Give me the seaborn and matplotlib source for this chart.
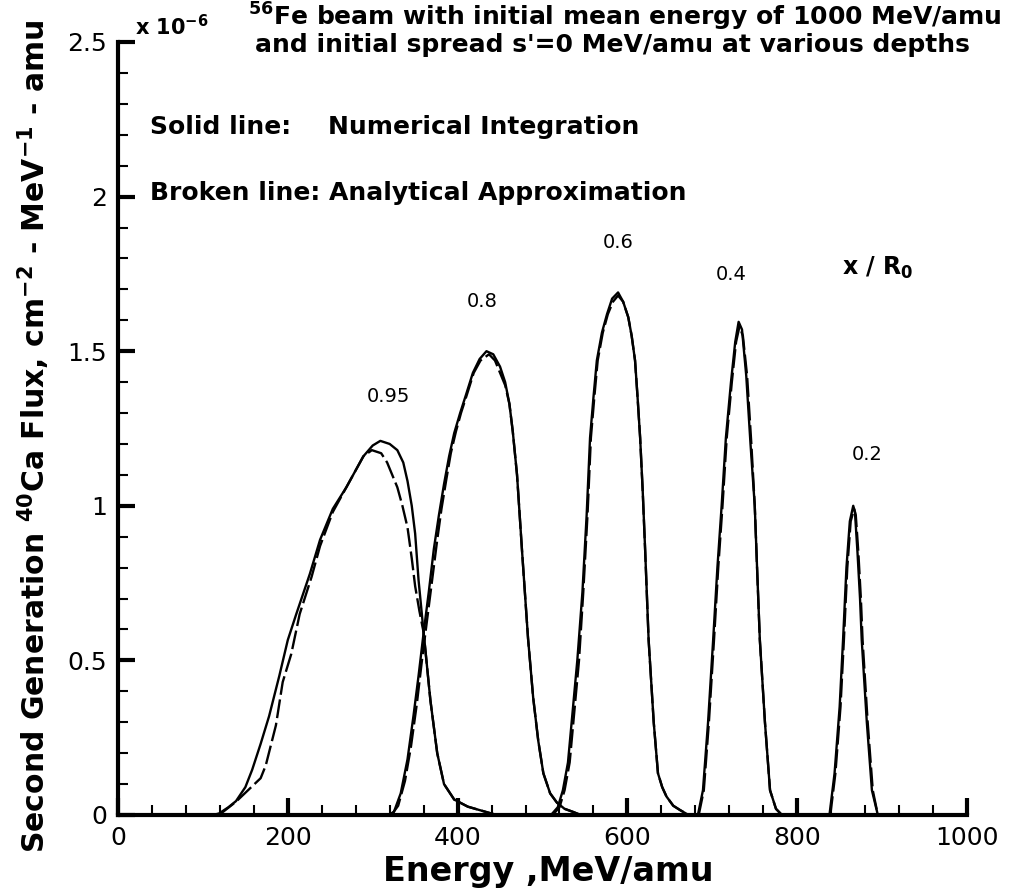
import numpy as np
import pandas as pd
import matplotlib
matplotlib.use("Agg")
import matplotlib.pyplot as plt
import seaborn as sns
from matplotlib.ticker import MultipleLocator

# ---------------- data (flux in units of 1e-6) ----------------
depths = ["0.95", "0.8", "0.6", "0.4", "0.2"]

E95_num = [112, 119, 130, 139, 150, 158, 168, 178, 190, 200, 210, 226, 238, 253, 269, 289, 300, 309, 320, 329, 336, 341, 346, 350, 354, 360, 368, 376, 384, 396, 412, 432, 446]
F95_num = [0.0, 0.005, 0.025, 0.045, 0.09, 0.146, 0.23, 0.32, 0.45, 0.566, 0.65, 0.78, 0.89, 0.99, 1.06, 1.16, 1.195, 1.21, 1.20, 1.18, 1.14, 1.08, 1.0, 0.91, 0.76, 0.59, 0.37, 0.20, 0.10, 0.05, 0.027, 0.011, 0.0]
E95_ana = [119, 139, 168, 174, 186, 194, 204, 214, 228, 238, 253, 269, 289, 299, 310, 317, 323, 329, 335, 341, 346, 350, 355, 360, 368, 376, 384, 396, 412, 432, 446]
F95_ana = [0.0, 0.043, 0.119, 0.16, 0.29, 0.43, 0.52, 0.65, 0.77, 0.87, 0.98, 1.06, 1.16, 1.18, 1.17, 1.14, 1.10, 1.06, 1.0, 0.93, 0.83, 0.74, 0.66, 0.59, 0.37, 0.20, 0.10, 0.05, 0.027, 0.011, 0.0]

E80_num = [318, 325, 333, 341, 348, 354, 360, 366, 372, 378, 384, 390, 396, 403, 410, 418, 426, 434, 442, 450, 456, 461, 465, 470, 476, 483, 489, 495, 501, 509, 517, 526, 536, 545]
F80_num = [0.0, 0.01, 0.07, 0.18, 0.32, 0.45, 0.59, 0.72, 0.86, 0.97, 1.07, 1.16, 1.235, 1.30, 1.36, 1.43, 1.475, 1.50, 1.49, 1.45, 1.40, 1.33, 1.24, 1.10, 0.85, 0.57, 0.38, 0.24, 0.135, 0.07, 0.04, 0.02, 0.01, 0.0]
E80_ana = [322, 330, 338, 345, 352, 358, 364, 370, 376, 381, 387, 392, 398, 404, 411, 419, 427, 437, 444, 450, 456, 461, 465, 470, 476, 483, 489, 495, 501, 509, 517, 526, 536, 545]
F80_ana = [0.0, 0.03, 0.11, 0.22, 0.36, 0.50, 0.63, 0.76, 0.89, 0.99, 1.09, 1.17, 1.24, 1.30, 1.36, 1.43, 1.47, 1.49, 1.47, 1.43, 1.39, 1.33, 1.24, 1.10, 0.85, 0.57, 0.38, 0.24, 0.135, 0.07, 0.04, 0.02, 0.01, 0.0]

E60_num = [510, 518, 524, 530, 536, 541, 547, 552, 556, 560, 564, 570, 576, 582, 589, 595, 601, 605, 609, 612, 615, 618, 621, 625, 631, 636, 641, 646, 654, 662, 672]
F60_num = [0.0, 0.025, 0.08, 0.17, 0.35, 0.50, 0.72, 0.97, 1.22, 1.35, 1.47, 1.56, 1.62, 1.67, 1.69, 1.66, 1.61, 1.55, 1.47, 1.35, 1.22, 1.05, 0.85, 0.566, 0.30, 0.135, 0.09, 0.06, 0.03, 0.016, 0.0]
E60_ana = [512, 520, 526, 532, 538, 543, 548, 553, 557, 561, 565, 571, 577, 583, 589, 595, 601, 605, 609, 612, 615, 618, 621, 625, 631, 636, 641, 646, 654, 662, 672]
F60_ana = [0.0, 0.025, 0.08, 0.17, 0.35, 0.50, 0.72, 0.97, 1.22, 1.35, 1.47, 1.56, 1.62, 1.66, 1.68, 1.66, 1.61, 1.55, 1.47, 1.35, 1.22, 1.05, 0.85, 0.566, 0.30, 0.135, 0.09, 0.06, 0.03, 0.016, 0.0]

E40_num = [683, 689, 695, 701, 706, 711, 716, 722, 727, 731, 735, 740, 745, 750, 753, 756, 762, 768, 775, 782]
F40_num = [0.0, 0.08, 0.30, 0.566, 0.80, 1.0, 1.22, 1.40, 1.53, 1.595, 1.57, 1.42, 1.20, 1.0, 0.78, 0.566, 0.30, 0.08, 0.02, 0.0]
E40_ana = [684, 690, 696, 702, 707, 712, 717, 723, 728, 732, 736, 741, 746, 750, 753, 756, 762, 768, 775, 782]
F40_ana = [0.0, 0.08, 0.30, 0.566, 0.80, 1.0, 1.22, 1.40, 1.53, 1.58, 1.55, 1.42, 1.20, 1.0, 0.78, 0.566, 0.30, 0.08, 0.02, 0.0]

E20_num = [838, 844, 850, 854, 858, 862, 866, 868, 871, 874, 876, 882, 888, 895]
F20_num = [0.0, 0.135, 0.35, 0.566, 0.80, 0.95, 1.0, 0.98, 0.85, 0.70, 0.566, 0.30, 0.08, 0.0]
E20_ana = [839, 845, 851, 855, 859, 863, 867, 869, 872, 875, 877, 883, 889, 895]
F20_ana = [0.0, 0.135, 0.35, 0.566, 0.80, 0.95, 0.99, 0.97, 0.85, 0.70, 0.566, 0.30, 0.08, 0.0]

x_ticks = [0, 200, 400, 600, 800, 1000]
y_ticks = [0, 0.5, 1, 1.5, 2, 2.5]
y_tick_labels = ["0", "0.5", "1", "1.5", "2", "2.5"]

# ---------------- long table ----------------
curves = {
    ("0.95", "Numerical"): (E95_num, F95_num), ("0.95", "Analytical"): (E95_ana, F95_ana),
    ("0.8", "Numerical"): (E80_num, F80_num), ("0.8", "Analytical"): (E80_ana, F80_ana),
    ("0.6", "Numerical"): (E60_num, F60_num), ("0.6", "Analytical"): (E60_ana, F60_ana),
    ("0.4", "Numerical"): (E40_num, F40_num), ("0.4", "Analytical"): (E40_ana, F40_ana),
    ("0.2", "Numerical"): (E20_num, F20_num), ("0.2", "Analytical"): (E20_ana, F20_ana),
}
rows = []
for (d, m), (E, F) in curves.items():
    for e, f in zip(E, F):
        rows.append({"energy": e, "flux": f, "depth": d, "method": m, "unit": d + m})
df = pd.DataFrame(rows)

# ---------------- figure ----------------
sns.set_theme(style="white")
plt.rcParams['font.family'] = ['DejaVu Sans']
plt.rcParams['mathtext.default'] = 'regular'
plt.rcParams['text.color'] = 'black'
plt.rcParams['axes.labelcolor'] = 'black'
plt.rcParams['xtick.color'] = 'black'
plt.rcParams['ytick.color'] = 'black'

W, H = 1032, 889
fig = plt.figure(figsize=(W / 100, H / 100), dpi=100)
ax = fig.add_axes([118 / W, (H - 815) / H, (967 - 118) / W, (815 - 42) / H])

sns.lineplot(data=df, x="energy", y="flux", units="unit", style="method",
             dashes={"Numerical": "", "Analytical": (8, 2)},
             estimator=None, sort=False, color="black", lw=1.7,
             legend=False, ax=ax)

ax.set_xlim(0, 1000)
ax.set_ylim(0, 2.5)
ax.set_xticks(x_ticks)
ax.set_xticklabels([str(t) for t in x_ticks])
ax.set_yticks(y_ticks)
ax.set_yticklabels(y_tick_labels)
ax.xaxis.set_minor_locator(MultipleLocator(40))
ax.yaxis.set_minor_locator(MultipleLocator(0.1))

for side in ["top", "right"]:
    ax.spines[side].set_visible(False)
for side in ["left", "bottom"]:
    ax.spines[side].set_linewidth(3.0)
    ax.spines[side].set_color("black")

ax.tick_params(which="major", direction="in", length=12, width=3, color="black",
               labelcolor="black", labelsize=18, pad=8, bottom=True, left=True)
ax.tick_params(which="minor", direction="in", length=7, width=1.5, color="black",
               bottom=True, left=True)
ax.grid(False)

ax.set_xlabel("Energy ,MeV/amu", fontsize=24, fontweight="bold", color="black")
ax.set_ylabel("Second Generation $^{40}$Ca Flux, cm$^{-2}$ - MeV$^{-1}$ - amu",
              fontsize=21.5, fontweight="bold", color="black")
ax.yaxis.set_label_coords(-(118 - 52) / 849, (815 - 436) / 773)
ax.xaxis.set_label_coords((548 - 118) / 849, -(855 - 815) / 773)

def fx(px):
    return px / W

def fy(py):
    return 1 - py / H

fig.text(fx(135), fy(27), "x 10$^{-6}$", fontsize=15, fontweight="bold", va="center", ha="left")
fig.text(fx(248), fy(17), "$^{56}$Fe beam with initial mean energy of 1000 MeV/amu",
         fontsize=18, fontweight="bold", va="center", ha="left")
fig.text(fx(255), fy(45), "and initial spread s'=0 MeV/amu at various depths",
         fontsize=18, fontweight="bold", va="center", ha="left")
fig.text(fx(150), fy(127), "Solid line:", fontsize=18, fontweight="bold", va="center", ha="left")
fig.text(fx(328), fy(127), "Numerical Integration", fontsize=18, fontweight="bold", va="center", ha="left")
fig.text(fx(150), fy(193), "Broken line: Analytical Approximation", fontsize=18, fontweight="bold",
         va="center", ha="left")
fig.text(fx(878), fy(268), "x / R$_0$", fontsize=17, fontweight="bold", va="center", ha="center")

label_pos = {"0.95": (388, 396), "0.8": (482, 301), "0.6": (618, 243), "0.4": (731, 274), "0.2": (867, 455)}
for d in depths:
    px, py = label_pos[d]
    fig.text(fx(px), fy(py), d, fontsize=14, va="center", ha="center")

fig.savefig("out.png", dpi=100, facecolor="white")
